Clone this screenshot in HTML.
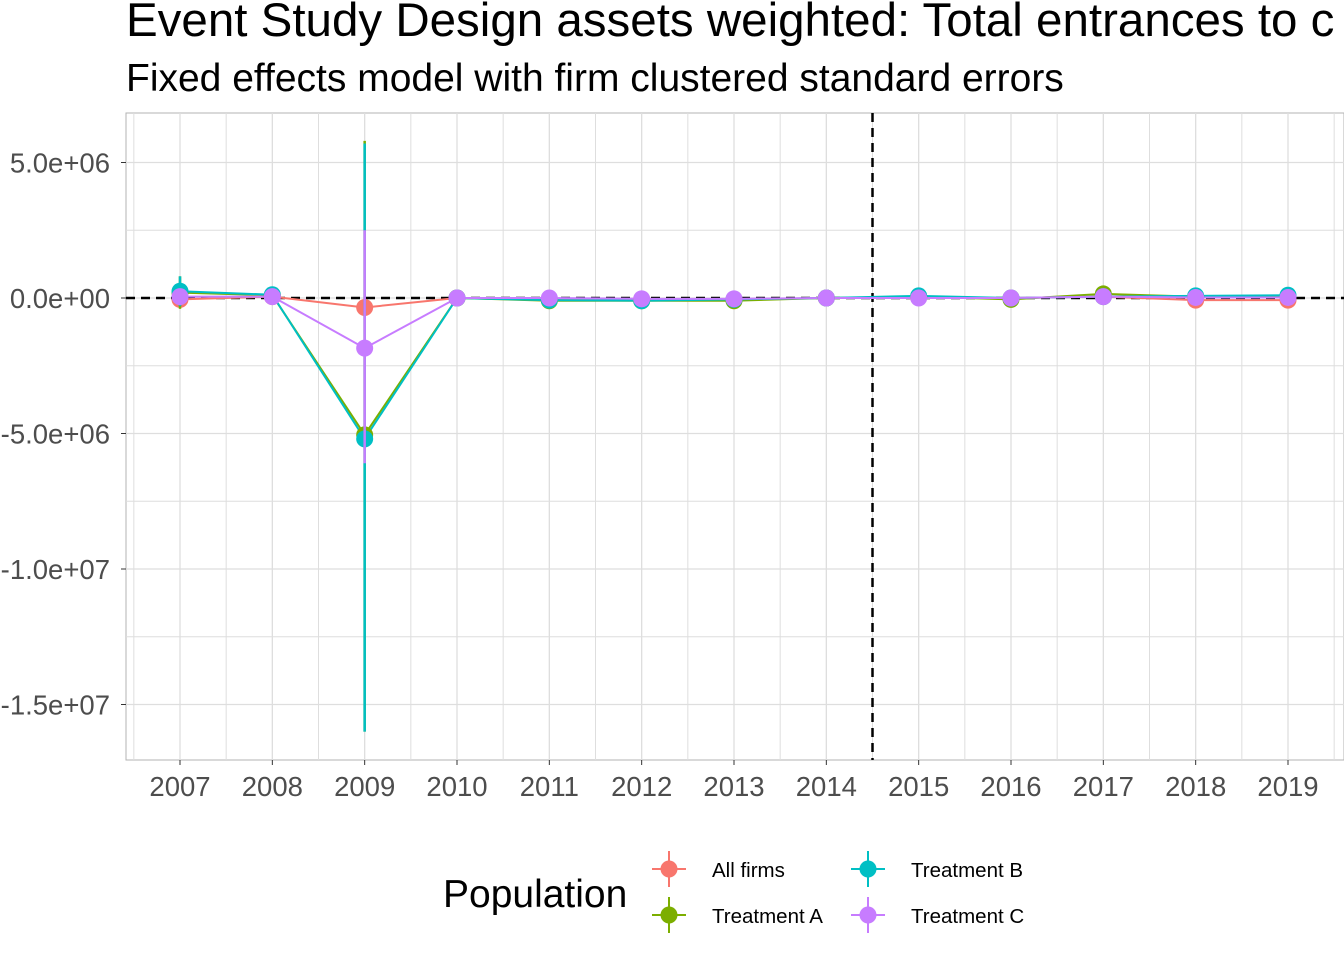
<!DOCTYPE html>
<html><head><meta charset="utf-8"><style>
body{margin:0;background:#fff;}
svg text{font-family:"Liberation Sans",Arial,sans-serif;}
</style></head><body>
<svg id="chart" width="1344" height="960" xmlns="http://www.w3.org/2000/svg">
<text x="126" y="36" font-size="47.5" fill="#000">Event Study Design assets weighted: Total entrances to c</text>
<text x="126" y="91" font-size="39" fill="#000">Fixed effects model with firm clustered standard errors</text>
<g id="grid"></g>
<g id="marks"></g>
<g id="axes"></g>
<g id="legend"></g>
</svg>
<script>
const years=[2007,2008,2009,2010,2011,2012,2013,2014,2015,2016,2017,2018,2019];
const seriesNames=["All firms","Treatment A","Treatment B","Treatment C"];
const allFirms=[-0.05,0.05,-0.35,0,-0.05,-0.05,-0.05,0,0.02,0,0.05,-0.08,-0.08];
const treatA=[0.2,0.1,-5.05,0,-0.1,-0.1,-0.1,0,0.05,-0.05,0.15,0.05,0.05];
const treatB=[0.25,0.12,-5.2,0,-0.08,-0.1,-0.05,0,0.08,0,0.05,0.08,0.1];
const treatC=[0.05,0.05,-1.85,0,0,-0.03,-0.03,0,0,0,0.05,0.02,0.02];
const allLo=[-0.1,0,-0.6,0,-0.1,-0.1,-0.1,0,-0.03,-0.05,0,-0.15,-0.15];
const allHi=[0,0.1,-0.1,0,0,0,0,0,0.07,0.05,0.1,0,0];
const aLo=[-0.4,-0.2,-16.0,0,-0.2,-0.2,-0.2,0,-0.05,-0.15,0,-0.05,-0.05];
const aHi=[0.8,0.4,5.8,0,0,0,0,0,0.15,0.05,0.3,0.15,0.15];
const bLo=[-0.3,-0.15,-16.0,0,-0.2,-0.2,-0.15,0,-0.05,-0.1,-0.1,-0.05,-0.05];
const bHi=[0.8,0.4,5.7,0,0.05,0,0.05,0,0.2,0.1,0.2,0.2,0.3];
const cLo=[0,0,-6.1,0,-0.05,-0.08,-0.08,0,-0.05,-0.05,0,-0.05,-0.05];
const cHi=[0.1,0.1,2.5,0,0.05,0.02,0.02,0,0.05,0.05,0.1,0.08,0.08];
const yTicks=[5,0,-5,-10,-15];
const yTickLabels=["5.0e+06","0.0e+00","-5.0e+06","-1.0e+07","-1.5e+07"];
const colors=["#F8766D","#7CAE00","#00BFC4","#C77CFF"];
const vals=[allFirms,treatA,treatB,treatC], los=[allLo,aLo,bLo,cLo], his=[allHi,aHi,bHi,cHi];
const NS="http://www.w3.org/2000/svg";
const L=126,R=1344,T=113,B=760;
const xS=v=>180+(v-2007)*(1288-180)/12;
const yS=v=>298-v*27.1;
function mk(tag,attrs,parent){const e=document.createElementNS(NS,tag);for(const k in attrs)e.setAttribute(k,attrs[k]);document.getElementById(parent).appendChild(e);return e;}
let bg=mk('rect',{x:L,y:T,width:R-L,height:B-T,fill:'#fff',stroke:'#b3b3b3','stroke-width':1},'grid');


for(let v=7.5;v>=-17.5;v-=2.5){if(yS(v)<T||yS(v)>B)continue;const major=yTicks.includes(v);
 const g=mk('line',{x1:L,x2:R,y1:yS(v),y2:yS(v),stroke:'#dedede','stroke-width':major?1.3:1},'grid');
 
 }
for(let i=-0.5;i<=12.5;i+=0.5){const x=xS(2007+i);if(x<L||x>R)continue;const major=Number.isInteger(i);
 const g=mk('line',{x1:x,x2:x,y1:T,y2:B,stroke:'#dedede','stroke-width':major?1.3:1},'grid');
 
 }
let h0=mk('line',{x1:L,x2:R,y1:yS(0),y2:yS(0),stroke:'#000','stroke-width':2.5,'stroke-dasharray':'9,6'},'marks');


let vr=mk('line',{x1:xS(2014.5),x2:xS(2014.5),y1:T,y2:B,stroke:'#000','stroke-width':2.5,'stroke-dasharray':'9,6'},'marks');


vals.forEach((s,k)=>{
 const pts=s.map((v,i)=>xS(years[i])+','+yS(v)).join(' ');
 const pl=mk('polyline',{points:pts,fill:'none',stroke:colors[k],'stroke-width':2},'marks');
 
 
});
vals.forEach((s,k)=>{
 s.forEach((v,i)=>{
  const x=xS(years[i]);
  const eb=mk('line',{x1:x,x2:x,y1:yS(his[k][i]),y2:yS(los[k][i]),stroke:colors[k],'stroke-width':2.5},'marks');
  
  
  const c=mk('circle',{cx:x,cy:yS(v),r:8.5,fill:colors[k]},'marks');
  
  
 });
});
yTicks.forEach((v,i)=>{
 const t=mk('text',{x:110,y:yS(v)+10,'text-anchor':'end','font-size':27.5,fill:'#4d4d4d'},'axes');t.textContent=yTickLabels[i];
 
 
 const tk=mk('line',{x1:L-5,x2:L,y1:yS(v),y2:yS(v),stroke:'#333','stroke-width':1},'axes');
 
 
});
years.forEach(y=>{
 const t=mk('text',{x:xS(y),y:796,'text-anchor':'middle','font-size':27.5,fill:'#4d4d4d'},'axes');t.textContent=y;
 
 
 const tk=mk('line',{x1:xS(y),x2:xS(y),y1:B,y2:B+5,stroke:'#333','stroke-width':1},'axes');
 
 
});
const lt=mk('text',{x:443,y:907,'font-size':39,fill:'#000'},'legend');lt.textContent='Population';


const lpos=[[669,869],[669,915],[868,869],[868,915]];
seriesNames.forEach((n,k)=>{
 const [x,y]=lpos[k];
 const g=mk('g',{},'legend');
 
 
 const ns=(tag,a)=>{const e=document.createElementNS(NS,tag);for(const q in a)e.setAttribute(q,a[q]);g.appendChild(e);return e;};
 ns('line',{x1:x-17,x2:x+17,y1:y,y2:y,stroke:colors[k],'stroke-width':2});
 ns('line',{x1:x,x2:x,y1:y-18,y2:y+18,stroke:colors[k],'stroke-width':2});
 ns('circle',{cx:x,cy:y,r:8.5,fill:colors[k]});
 const t=ns('text',{x:x+43,y:y+8,'font-size':20.5,fill:'#000'});t.textContent=n;
});
</script>
</body></html>
